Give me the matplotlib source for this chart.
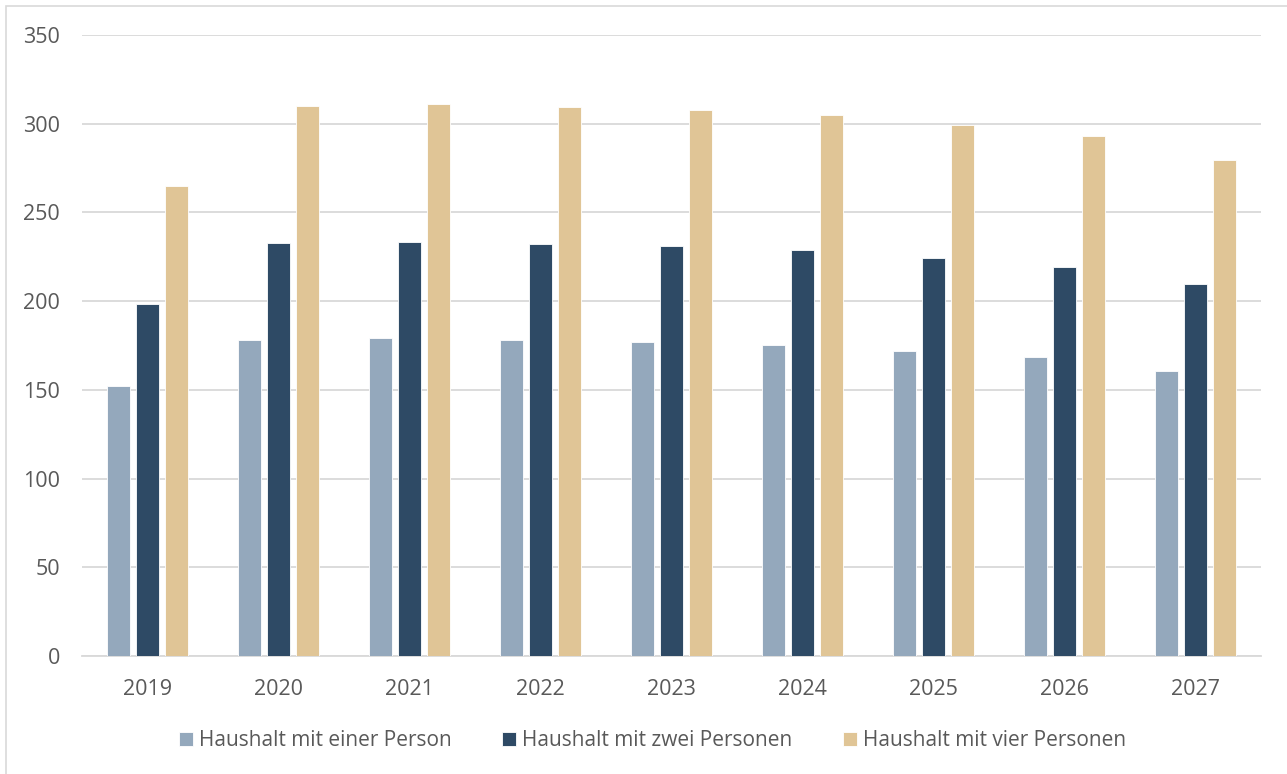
import matplotlib
matplotlib.use("Agg")
import matplotlib.pyplot as plt
from matplotlib.patches import Rectangle
import numpy as np

years = ["2019", "2020", "2021", "2022", "2023", "2024", "2025", "2026", "2027"]
series_names = ["Haushalt mit einer Person", "Haushalt mit zwei Personen", "Haushalt mit vier Personen"]
one_person = [152, 178, 179, 178, 177, 175.5, 172, 168.5, 160.5]
two_persons = [198.5, 232.5, 233.5, 232, 231, 229, 224.5, 219.5, 209.5]
four_persons = [265, 310, 311, 309.5, 308, 305, 299, 293, 279.5]
y_ticks = [0, 50, 100, 150, 200, 250, 300, 350]

colors = ["#94A8BC", "#2E4A65", "#E0C596"]

plt.rcParams["font.family"] = ["Open Sans", "DejaVu Sans"]

fig = plt.figure(figsize=(12.87, 7.74), dpi=100)
W, H = 1287, 774
ax = fig.add_axes([82 / W, 1 - 656 / H, (1261 - 82) / W, (656 - 35) / H])

x = np.arange(len(years))
bw = 0.175
step = 0.222
for i, (vals, name) in enumerate(zip([one_person, two_persons, four_persons], series_names)):
    ax.bar(x + (i - 1) * step, vals, width=bw, color=colors[i], label=name,
           edgecolor="white", linewidth=0.6, zorder=3)

ax.set_xlim(-0.5, len(years) - 0.5)
ax.set_ylim(0, 350)
ax.set_yticks(y_ticks)
ax.set_xticks(x)
ax.set_xticklabels(years)
ax.yaxis.grid(True, color="#D9D9D9", linewidth=1.3, zorder=0)
ax.set_axisbelow(True)
for s in ["top", "right", "left"]:
    ax.spines[s].set_visible(False)
ax.spines["bottom"].set_color("#D9D9D9")
ax.spines["bottom"].set_linewidth(1.3)
ax.tick_params(axis="both", length=0, labelsize=15.5, labelcolor="#595959")
ax.tick_params(axis="y", pad=16)
ax.tick_params(axis="x", pad=16.5)

leg = fig.legend(loc="center", bbox_to_anchor=(0.5 + 9 / W, 1 - 741 / H), ncol=3, frameon=False,
                 fontsize=15, handlelength=0.67, handleheight=0.67, handletextpad=0.3,
                 columnspacing=2.4)
for t in leg.get_texts():
    t.set_color("#595959")

fig.patches.append(Rectangle((6 / W, -0.05), 1.1, 1 - 6 / H + 0.05, transform=fig.transFigure,
                             fill=False, edgecolor="#D9D9D9", linewidth=1.2))

fig.savefig("out.png", dpi=100)
